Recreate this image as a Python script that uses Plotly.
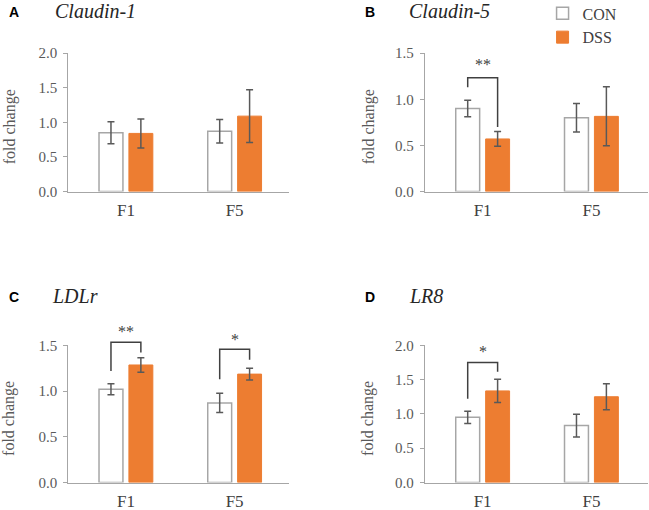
import plotly.graph_objects as go

# ---------------- data ----------------
categories = ["F1", "F5"]

claudin1_con = [0.85, 0.87]
claudin1_con_err = [0.16, 0.17]
claudin1_dss = [0.84, 1.09]
claudin1_dss_err = [0.21, 0.38]

claudin5_con = [0.90, 0.80]
claudin5_con_err = [0.09, 0.155]
claudin5_dss = [0.57, 0.815]
claudin5_dss_err = [0.08, 0.32]

ldlr_con = [1.02, 0.87]
ldlr_con_err = [0.06, 0.105]
ldlr_dss = [1.285, 1.185]
ldlr_dss_err = [0.08, 0.065]

lr8_con = [0.95, 0.83]
lr8_con_err = [0.09, 0.165]
lr8_dss = [1.335, 1.25]
lr8_dss_err = [0.17, 0.19]

panel_letters = ["A", "B", "C", "D"]
panel_genes = ["Claudin-1", "Claudin-5", "LDLr", "LR8"]
panel_ymax = [2.0, 1.5, 1.5, 2.0]

# significance brackets: (panel index, category index, left foot, top, right foot, label, label y)
brackets = [
    (1, 0, 1.13, 1.235, 0.70, "**", 1.41),
    (2, 0, 1.22, 1.533, 1.42, "**", 1.68),
    (2, 1, 1.128, 1.457, 1.343, "*", 1.595),
    (3, 0, 1.22, 1.75, 1.615, "*", 1.955),
]

# ---------------- styling / layout ----------------
W, H = 649, 510
ORANGE = "#ED7D31"
AXIS_GRAY = "#A6A6A6"
ERR_GRAY = "#595959"
TEXT_GRAY = "#595959"
DARK = "#404040"
SERIF = "Liberation Serif"
SANS = "Liberation Sans"

BARGAP = 0.45
BARGROUPGAP = 0.2
slot = (1 - BARGAP) / 2
EXT = 45  # extra pixels above each panel for the bracket overlay axes

# pixel geometry of each panel: (x0, x1, ytop, ybottom)
panel_px = [
    (68.3, 289.0, 53.2, 191.5),
    (425.0, 648.0, 53.2, 191.5),
    (68.3, 289.0, 345.3, 482.5),
    (425.0, 648.0, 345.3, 482.5),
]
xranges = [[-0.53, 1.5], [-0.53, 1.52], [-0.53, 1.5], [-0.53, 1.52]]

con_vals = [claudin1_con, claudin5_con, ldlr_con, lr8_con]
con_errs = [claudin1_con_err, claudin5_con_err, ldlr_con_err, lr8_con_err]
dss_vals = [claudin1_dss, claudin5_dss, ldlr_dss, lr8_dss]
dss_errs = [claudin1_dss_err, claudin5_dss_err, ldlr_dss_err, lr8_dss_err]
xpos = list(range(len(categories)))

fig = go.Figure()

for i in range(4):
    sfx = "" if i == 0 else str(i + 1)
    xa, ya = "x" + sfx, "y" + sfx
    fig.add_trace(go.Bar(
        x=xpos, y=con_vals[i], name="CON",
        marker=dict(color="white", line=dict(color=AXIS_GRAY, width=1.5)),
        error_y=dict(type="data", array=con_errs[i], color=ERR_GRAY, thickness=1.5, width=3.5),
        xaxis=xa, yaxis=ya, showlegend=(i == 0),
        hoverinfo="skip",
    ))
    fig.add_trace(go.Bar(
        x=xpos, y=dss_vals[i], name="DSS",
        marker=dict(color=ORANGE, line=dict(color=ORANGE, width=1)),
        error_y=dict(type="data", array=dss_errs[i], color=ERR_GRAY, thickness=1.5, width=3.5),
        xaxis=xa, yaxis=ya, showlegend=(i == 0),
        hoverinfo="skip",
    ))

layout = dict(
    width=W, height=H,
    margin=dict(l=0, r=0, t=0, b=0, autoexpand=False),
    paper_bgcolor="white", plot_bgcolor="rgba(0,0,0,0)",
    barmode="group", bargap=BARGAP, bargroupgap=BARGROUPGAP,
    showlegend=True,
    legend=dict(
        x=0.836, y=1.007, xanchor="left", yanchor="top",
        font=dict(family=SERIF, size=16, color=DARK),
        bgcolor="rgba(0,0,0,0)", tracegroupgap=0,
        itemclick=False, itemdoubleclick=False,
    ),
)

annotations = []
for i in range(4):
    sfx = "" if i == 0 else str(i + 1)
    x0, x1, yt, yb = panel_px[i]
    layout["xaxis" + sfx] = dict(
        domain=[x0 / W, x1 / W], anchor="y" + sfx,
        range=xranges[i], tickvals=xpos, ticktext=categories,
        showline=True, linecolor=AXIS_GRAY, linewidth=1.3,
        ticks="", showgrid=False, zeroline=False, automargin=False,
        tickfont=dict(family=SERIF, size=17, color=DARK),
        ticklabelstandoff=3, fixedrange=True,
    )
    layout["yaxis" + sfx] = dict(
        domain=[1 - yb / H, 1 - yt / H], anchor="x" + sfx,
        range=[0, panel_ymax[i]], dtick=0.5, tickformat=".1f",
        showline=True, linecolor=AXIS_GRAY, linewidth=1.3,
        ticks="outside", ticklen=4, tickcolor=AXIS_GRAY,
        showgrid=False, zeroline=False, automargin=False,
        tickfont=dict(family=SERIF, size=15, color=TEXT_GRAY),
        ticklabelstandoff=3, fixedrange=True,
    )
    # invisible overlay axis with identical scale, extended upward, for brackets
    h = yb - yt
    layout["yaxis" + str(i + 5)] = dict(
        domain=[1 - yb / H, 1 - (yt - EXT) / H], anchor="x" + sfx,
        range=[0, panel_ymax[i] * (h + EXT) / h], visible=False,
        fixedrange=True, automargin=False,
    )
    # y-axis title
    lx = 9.5 if i % 2 == 0 else 368.5
    ly = (yt + yb) / 2 + 4.5
    annotations.append(dict(
        text="fold change", textangle=-90, xref="paper", yref="paper",
        x=lx / W, y=1 - ly / H, xanchor="center", yanchor="middle",
        showarrow=False, font=dict(family=SERIF, size=16, color=TEXT_GRAY),
    ))
    # panel letter and gene title
    letter_x = 13.5 if i % 2 == 0 else 369.8
    gene_x = [53, 406.7, 50, 406.7][i]
    top_y = 11.5 if i < 2 else 297.0
    annotations.append(dict(
        text="<b>%s</b>" % panel_letters[i], xref="paper", yref="paper",
        x=letter_x / W, y=1 - top_y / H, xanchor="center", yanchor="middle",
        showarrow=False, font=dict(family=SANS, size=14, color="black"),
    ))
    annotations.append(dict(
        text="<i>%s</i>" % panel_genes[i], xref="paper", yref="paper",
        x=gene_x / W, y=1 - (top_y - 1) / H, xanchor="left", yanchor="middle",
        showarrow=False, font=dict(family=SERIF, size=20, color="#262626"),
    ))

for (p, c, yl, ytop, yr, lab, ylab) in brackets:
    sfx = "" if p == 0 else str(p + 1)
    xl = xpos[c] - slot / 2
    xr = xpos[c] + slot / 2
    fig.add_trace(go.Scatter(
        x=[xl, xl, xr, xr], y=[yl, ytop, ytop, yr], mode="lines",
        line=dict(color=DARK, width=1.5), xaxis="x" + sfx, yaxis="y" + str(p + 5),
        showlegend=False, hoverinfo="skip",
    ))
    annotations.append(dict(
        text=lab, xref="x" + sfx, yref="y" + str(p + 5), x=xpos[c], y=ylab,
        xanchor="center", yanchor="middle", yshift=-3, showarrow=False,
        font=dict(family=SERIF, size=16, color=DARK),
    ))

layout["annotations"] = annotations
fig.update_layout(**layout)

fig.write_html(
    "out.html",
    config={"displayModeBar": False},
    post_script="document.body.style.margin='0';document.body.style.overflow='hidden';",
)
